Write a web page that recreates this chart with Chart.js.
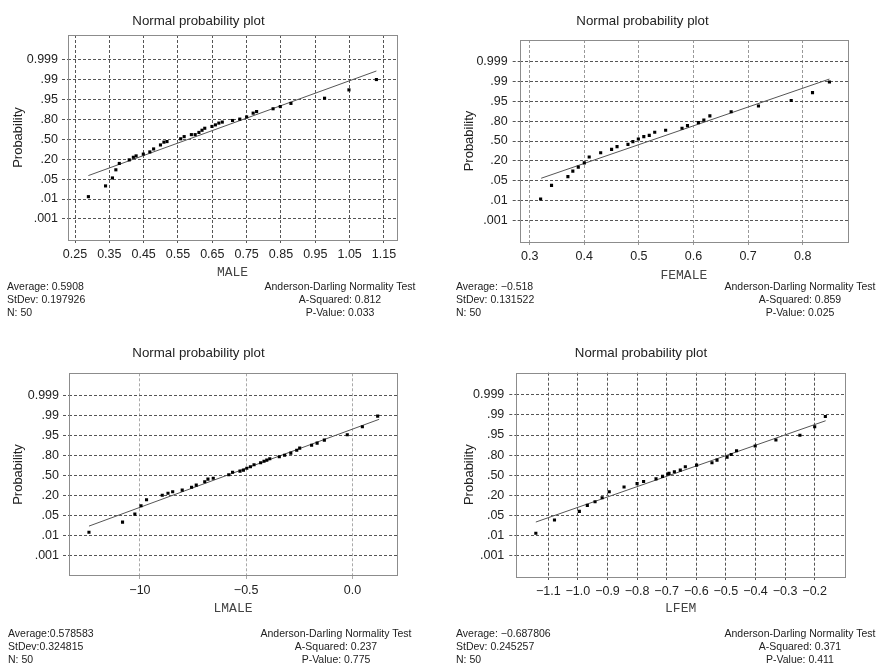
<!DOCTYPE html>
<html><head><meta charset="utf-8">
<script src="https://cdn.jsdelivr.net/npm/chart.js@4.4.0/dist/chart.umd.min.js"></script>
<style>
body{margin:0;background:#fff;width:877px;height:664px;position:relative;overflow:hidden;font-family:"Liberation Sans",Arial,sans-serif;}
.pane{position:absolute;}
.st{position:absolute;font-size:10.5px;line-height:13px;color:#222;white-space:nowrap;}
.c{transform:translateX(-50%);text-align:center;}
</style></head><body>
<div class="pane" style="left:0;top:0;width:437px;height:330px"><canvas id="c0"></canvas></div>
<div class="pane" style="left:437px;top:0;width:440px;height:330px"><canvas id="c1"></canvas></div>
<div class="pane" style="left:0;top:330px;width:437px;height:334px"><canvas id="c2"></canvas></div>
<div class="pane" style="left:437px;top:330px;width:440px;height:334px"><canvas id="c3"></canvas></div>

<div class="st" style="left:7px;top:280px">Average: 0.5908<br>StDev: 0.197926<br>N: 50</div>
<div class="st c" style="left:340px;top:280px">Anderson-Darling Normality Test<br>A-Squared: 0.812<br>P-Value: 0.033</div>
<div class="st" style="left:456px;top:280px">Average: −0.518<br>StDev: 0.131522<br>N: 50</div>
<div class="st c" style="left:800px;top:280px">Anderson-Darling Normality Test<br>A-Squared: 0.859<br>P-Value: 0.025</div>
<div class="st" style="left:8px;top:627px">Average:0.578583<br>StDev:0.324815<br>N: 50</div>
<div class="st c" style="left:336px;top:627px">Anderson-Darling Normality Test<br>A-Squared: 0.237<br>P-Value: 0.775</div>
<div class="st" style="left:456px;top:627px">Average: −0.687806<br>StDev: 0.245257<br>N: 50</div>
<div class="st c" style="left:800px;top:627px">Anderson-Darling Normality Test<br>A-Squared: 0.371<br>P-Value: 0.411</div>

<script>
// Probability axis: positions 0..8 carry these labels (evenly spaced as in the figure)
const probTickPos = [0,1,2,3,4,5,6,7,8];
const probTickLabels = ['.001','.01','.05','.20','.50','.80','.95','.99','0.999'];

// MALE
const maleX = [0.289,0.339,0.359,0.369,0.379,0.408,0.420,0.428,0.449,0.468,0.479,0.499,0.509,0.518,0.558,0.568,0.589,0.600,0.611,0.620,0.628,0.649,0.659,0.669,0.679,0.709,0.730,0.750,0.769,0.779,0.827,0.848,0.879,0.977,1.048,1.128];
const maleY = [1.12,1.66,2.06,2.47,2.79,2.97,3.10,3.17,3.26,3.37,3.52,3.72,3.86,3.89,4.03,4.14,4.24,4.24,4.35,4.46,4.56,4.65,4.73,4.82,4.87,4.95,5.02,5.13,5.32,5.40,5.54,5.65,5.81,6.07,6.49,7.01];
const maleFitX = [0.289,1.128];
const maleFitY = [2.18,7.44];
const maleXTicks = [0.25,0.35,0.45,0.55,0.65,0.75,0.85,0.95,1.05,1.15];
const maleXTickLabels = ['0.25','0.35','0.45','0.55','0.65','0.75','0.85','0.95','1.05','1.15'];

// FEMALE
const femaleX = [0.320,0.340,0.370,0.379,0.389,0.400,0.409,0.430,0.450,0.460,0.480,0.489,0.499,0.509,0.519,0.529,0.549,0.579,0.589,0.609,0.619,0.630,0.669,0.719,0.779,0.818,0.849];
const femaleY = [1.09,1.77,2.21,2.49,2.69,2.90,3.20,3.41,3.58,3.72,3.83,3.97,4.10,4.22,4.28,4.44,4.54,4.64,4.77,4.92,5.05,5.26,5.47,5.76,6.03,6.43,6.96];
const femaleFitX = [0.321,0.849];
const femaleFitY = [2.13,7.11];
const femaleXTicks = [0.3,0.4,0.5,0.6,0.7,0.8];
const femaleXTickLabels = ['0.3','0.4','0.5','0.6','0.7','0.8'];

// LMALE
const lmaleX = [-1.240,-1.082,-1.024,-0.995,-0.969,-0.895,-0.868,-0.846,-0.801,-0.757,-0.735,-0.695,-0.680,-0.655,-0.582,-0.564,-0.529,-0.513,-0.497,-0.480,-0.463,-0.432,-0.416,-0.403,-0.389,-0.344,-0.319,-0.290,-0.262,-0.248,-0.192,-0.166,-0.132,-0.024,0.047,0.119];
const lmaleY = [1.17,1.68,2.08,2.50,2.80,3.02,3.12,3.20,3.28,3.42,3.53,3.70,3.83,3.87,4.05,4.17,4.23,4.28,4.37,4.45,4.55,4.65,4.72,4.78,4.85,4.95,5.02,5.13,5.27,5.38,5.52,5.63,5.78,6.05,6.45,6.98];
const lmaleFitX = [-1.240,0.126];
const lmaleFitY = [1.48,6.82];
const lmaleXTicks = [-1.0,-0.5,0.0];
const lmaleXTickLabels = ['−10','−0.5','0.0'];

// LFEM
const lfemX = [-1.142,-1.079,-0.995,-0.968,-0.942,-0.918,-0.894,-0.844,-0.800,-0.778,-0.736,-0.714,-0.696,-0.692,-0.674,-0.654,-0.637,-0.599,-0.547,-0.530,-0.496,-0.482,-0.464,-0.401,-0.331,-0.250,-0.200,-0.164];
const lfemY = [1.11,1.77,2.20,2.50,2.68,2.88,3.18,3.41,3.58,3.69,3.82,3.94,4.06,4.09,4.17,4.25,4.42,4.50,4.62,4.75,4.90,5.03,5.22,5.45,5.75,5.99,6.41,6.92];
const lfemFitX = [-1.142,-0.163];
const lfemFitY = [1.67,6.71];
const lfemXTicks = [-1.1,-1.0,-0.9,-0.8,-0.7,-0.6,-0.5,-0.4,-0.3,-0.2];
const lfemXTickLabels = ['−1.1','−1.0','−0.9','−0.8','−0.7','−0.6','−0.5','−0.4','−0.3','−0.2'];

const xTitles = ['MALE','FEMALE','LMALE','LFEM'];

const pts = (xs, ys) => xs.map((x, i) => ({x, y: ys[i]}));

const boxPlugin = {
  id: 'box',
  afterDatasetsDraw(chart) {
    const {ctx, chartArea: a} = chart;
    ctx.save();
    ctx.strokeStyle = '#8c8c8c';
    ctx.lineWidth = 1;
    ctx.strokeRect(Math.round(a.left) + 0.5, Math.round(a.top) + 0.5, Math.round(a.width), Math.round(a.height));
    ctx.restore();
  }
};

function makePanel(id, cfg) {
  const {xs, ys, fx, fy, xTicks, xLabels, xTitle, W, H, pl, pr, pt, pb, tc, xmin, xmax, ymin, ymax, yTitlePad, yTickLen, yTickPad, xTitlePad, xGrid} = cfg;
  const lh = 13.3 * 1.2;
  new Chart(document.getElementById(id), {
    type: 'scatter',
    data: {
      datasets: [
        {data: pts(fx, fy), showLine: true, borderColor: '#555', borderWidth: 1, pointRadius: 0, order: 2},
        {data: pts(xs, ys), pointStyle: 'rect', pointRadius: 2.2, backgroundColor: '#000', borderWidth: 0, order: 1}
      ]
    },
    options: {
      responsive: true, maintainAspectRatio: false, animation: false,
      layout: {padding: {left: 0, right: W - pr, top: 0, bottom: H - pb - 45}},
      plugins: {
        legend: {display: false}, tooltip: {enabled: false},
        title: {display: true, text: 'Normal probability plot', color: '#222',
          font: {family: '"Liberation Sans", Arial, sans-serif', size: 13.3, weight: 'normal'},
          padding: {top: tc - lh / 2 + 1, bottom: pt - tc - lh / 2 - 1}}
      },
      scales: {
        x: {
          type: 'linear', min: xmin, max: xmax,
          afterFit(s) { s.height = 45; },
          afterBuildTicks(s) { s.ticks = xTicks.map(v => ({value: v})); },
          ticks: {callback: (v, i) => xLabels[i], color: '#222', padding: 2, maxRotation: 0, autoSkip: false,
            font: {family: '"Liberation Sans", Arial, sans-serif', size: 12.5}},
          grid: {color: xGrid, lineWidth: 1, tickLength: 5, tickColor: xGrid, tickBorderDash: [3, 2]},
          border: {display: false, dash: [3, 2]},
          title: {display: true, text: xTitle, color: '#444', padding: {top: 0, bottom: xTitlePad},
            font: {family: '"Liberation Mono", "DejaVu Sans Mono", monospace', size: 13}}
        },
        y: {
          type: 'linear', min: ymin, max: ymax,
          afterFit(s) { s.width = pl; },
          afterBuildTicks(s) { s.ticks = probTickPos.map(v => ({value: v})); },
          ticks: {callback: (v, i) => probTickLabels[i], color: '#222', padding: yTickPad, autoSkip: false,
            font: {family: '"Liberation Sans", Arial, sans-serif', size: 12.5}},
          grid: {color: '#555', lineWidth: 1, tickLength: yTickLen, tickColor: '#555', tickBorderDash: [3, 2]},
          border: {display: false, dash: [3, 2]},
          title: {display: true, text: 'Probability', color: '#222', padding: {top: yTitlePad, bottom: 0},
            font: {family: '"Liberation Sans", Arial, sans-serif', size: 13}}
        }
      }
    },
    plugins: [boxPlugin]
  });
}

makePanel('c0', {xs: maleX, ys: maleY, fx: maleFitX, fy: maleFitY, xTicks: maleXTicks, xLabels: maleXTickLabels, xTitle: xTitles[0],
  W: 437, H: 330, pl: 68, pr: 397, pt: 35, pb: 240, tc: 20.7, xmin: 0.2296, xmax: 1.188, ymin: -1.06, ymax: 9.25,
  yTitlePad: 10.5, yTickLen: 6, yTickPad: 4, xTitlePad: 4.3, xGrid: '#555'});
makePanel('c1', {xs: femaleX, ys: femaleY, fx: femaleFitX, fy: femaleFitY, xTicks: femaleXTicks, xLabels: femaleXTickLabels, xTitle: xTitles[1],
  W: 440, H: 330, pl: 82.7, pr: 411, pt: 40, pb: 242, tc: 20.7, xmin: 0.2817, xmax: 0.883, ymin: -1.07, ymax: 9.07,
  yTitlePad: 24.3, yTickLen: 7, yTickPad: 5, xTitlePad: 3.3, xGrid: '#999'});
makePanel('c2', {xs: lmaleX, ys: lmaleY, fx: lmaleFitX, fy: lmaleFitY, xTicks: lmaleXTicks, xLabels: lmaleXTickLabels, xTitle: xTitles[2],
  W: 437, H: 334, pl: 69, pr: 397, pt: 43.3, pb: 245.7, tc: 22, xmin: -1.334, xmax: 0.21, ymin: -1.0, ymax: 9.12,
  yTitlePad: 10.5, yTickLen: 6, yTickPad: 4, xTitlePad: 4.0, xGrid: '#aaa'});
makePanel('c3', {xs: lfemX, ys: lfemY, fx: lfemFitX, fy: lfemFitY, xTicks: lfemXTicks, xLabels: lfemXTickLabels, xTitle: xTitles[3],
  W: 440, H: 334, pl: 79.3, pr: 408, pt: 42.7, pb: 246.7, tc: 22, xmin: -1.208, xmax: -0.0976, ymin: -1.05, ymax: 9.1,
  yTitlePad: 24.3, yTickLen: 7, yTickPad: 5, xTitlePad: 5.0, xGrid: '#555'});
</script>
</body></html>
